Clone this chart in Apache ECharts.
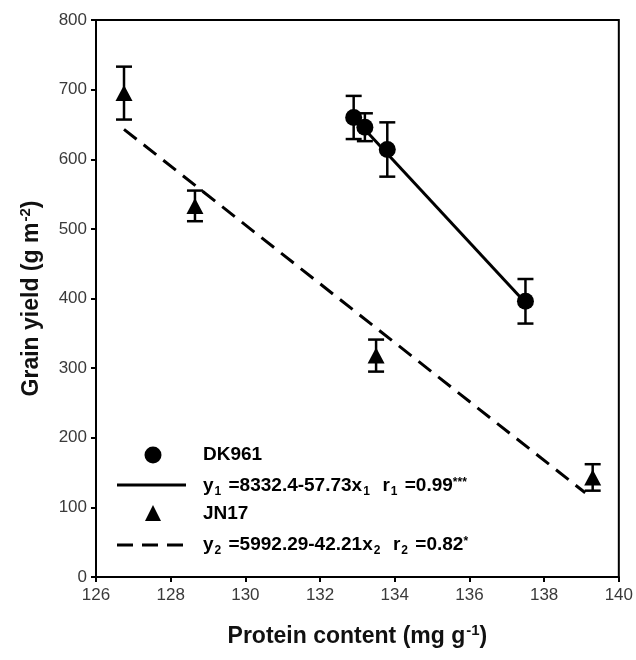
<!DOCTYPE html>
<html>
<head>
<meta charset="utf-8">
<script src="https://cdn.jsdelivr.net/npm/echarts@6/dist/echarts.min.js"></script>
<style>
  html, body { margin: 0; padding: 0; background: #fff; }
  #chart { width: 636px; height: 660px; }
</style>
</head>
<body>
<div id="chart"></div>
<script>
const font = "'Liberation Sans', Arial, sans-serif"

// DK961 (circles)
const dkX = [132.9, 133.2, 133.8, 137.5]
const dkY = [660, 646, 614, 396]
const dkErr = [31, 20, 39, 32]
// fitted line, end points
const dkFitX = [132.9, 137.5]
const dkFitY = [660, 394]

// JN17 (triangles)
const jnX = [126.75, 128.65, 133.5, 139.3]
const jnY = [695, 533, 318, 143]
const jnErr = [38, 22, 23, 19]
const jnFitX = [126.75, 139.1]
const jnFitY = [643, 121]

// axes
const xMin = 126, xMax = 140, xStep = 2
const yMin = 0, yMax = 800, yStep = 100

const chart = echarts.init(document.getElementById('chart'))

function pairs(xs, ys) {
  return xs.map((x, i) => [x, ys[i]])
}

// 误差线
function errorBars(xs, ys, errs) {
  return {
    type: 'custom',
    silent: true,
    z: 1,
    data: xs.map((x, i) => [x, ys[i] - errs[i], ys[i] + errs[i]]),
    renderItem(params, api) {
      const lo = api.coord([api.value(0), api.value(1)])
      const hi = api.coord([api.value(0), api.value(2)])
      const w = 8
      const style = { stroke: '#000', lineWidth: 2.5 }
      return {
        type: 'group',
        children: [
          { type: 'line', shape: { x1: lo[0], y1: lo[1], x2: hi[0], y2: hi[1] }, style },
          { type: 'line', shape: { x1: lo[0] - w, y1: lo[1], x2: lo[0] + w, y2: lo[1] }, style },
          { type: 'line', shape: { x1: hi[0] - w, y1: hi[1], x2: hi[0] + w, y2: hi[1] }, style }
        ]
      }
    }
  }
}

const txt = { fontSize: 19, fontWeight: 'bold', fontFamily: font, fill: '#000' }
const rich = {
  b: { fontSize: 19, fontWeight: 'bold', fontFamily: font, color: '#000' },
  s: { fontSize: 12, fontWeight: 'bold', fontFamily: font, color: '#000', padding: [11, 2, 0, 1] },
  a: { fontSize: 12, fontWeight: 'bold', fontFamily: font, color: '#000', padding: [0, 0, 6, 0] }
}
const titleRich = {
  t: { fontSize: 23, fontWeight: 'bold', fontFamily: font, color: '#111' },
  sup: { fontSize: 15, fontWeight: 'bold', fontFamily: font, color: '#111', padding: [0, 0, 13, 1] }
}

const option = {
  animation: false,
  grid: { left: 96, right: 15, top: 20, bottom: 83, show: true, borderColor: '#000', borderWidth: 2 },
  xAxis: {
    type: 'value',
    min: xMin, max: xMax, interval: xStep,
    name: '{t|Protein content (mg g}{sup|-1}{t|)}',
    nameLocation: 'middle',
    nameGap: 46,
    nameTextStyle: { rich: titleRich },
    axisLine: { lineStyle: { color: '#000', width: 2 } },
    axisTick: { inside: false, length: 5, lineStyle: { color: '#000', width: 2 } },
    axisLabel: { fontSize: 17, color: '#3a3a3a', fontFamily: font, margin: 10 },
    splitLine: { show: false }
  },
  yAxis: {
    type: 'value',
    min: yMin, max: yMax, interval: yStep,
    name: '{t|Grain yield (g m}{sup|-2}{t|)}',
    nameLocation: 'middle',
    nameRotate: 90,
    nameGap: 50,
    nameTextStyle: { rich: titleRich },
    axisLine: { lineStyle: { color: '#000', width: 2 } },
    axisTick: { inside: false, length: 5, lineStyle: { color: '#000', width: 2 } },
    axisLabel: { fontSize: 17, color: '#3a3a3a', fontFamily: font, margin: 9 },
    splitLine: { show: false }
  },
  series: [
    {
      name: 'DK961 fit',
      type: 'line',
      data: pairs(dkFitX, dkFitY),
      showSymbol: false,
      silent: true,
      lineStyle: { color: '#000', width: 3 },
      z: 2
    },
    {
      name: 'JN17 fit',
      type: 'line',
      data: pairs(jnFitX, jnFitY),
      showSymbol: false,
      silent: true,
      lineStyle: { color: '#000', width: 3, type: [16, 9] },
      z: 2
    },
    errorBars(dkX, dkY, dkErr),
    errorBars(jnX, jnY, jnErr),
    {
      name: 'DK961',
      type: 'scatter',
      data: pairs(dkX, dkY),
      symbol: 'circle',
      symbolSize: 17,
      itemStyle: { color: '#000', opacity: 1 },
      z: 3
    },
    {
      name: 'JN17',
      type: 'scatter',
      data: pairs(jnX, jnY),
      symbol: 'triangle',
      symbolSize: [17, 16],
      itemStyle: { color: '#000', opacity: 1 },
      z: 3
    }
  ],
  // 图例
  graphic: [
    { type: 'circle', shape: { cx: 153, cy: 455, r: 8.5 }, style: { fill: '#000' } },
    { type: 'text', x: 203, y: 455, style: Object.assign({ text: 'DK961', verticalAlign: 'middle' }, txt) },
    { type: 'line', shape: { x1: 117, y1: 485, x2: 186, y2: 485 }, style: { stroke: '#000', lineWidth: 3 } },
    {
      type: 'text', x: 203, y: 486,
      style: {
        text: '{b|y}{s|1}{b| =8332.4-57.73x}{s|1}{b|  r}{s|1}{b| =0.99}{a|***}',
        rich, verticalAlign: 'middle'
      }
    },
    { type: 'polygon', shape: { points: [[153, 505], [145, 521], [161, 521]] }, style: { fill: '#000' } },
    { type: 'text', x: 203, y: 514, style: Object.assign({ text: 'JN17', verticalAlign: 'middle' }, txt) },
    {
      type: 'line', shape: { x1: 117, y1: 545, x2: 186, y2: 545 },
      style: { stroke: '#000', lineWidth: 3, lineDash: [16, 9] }
    },
    {
      type: 'text', x: 203, y: 545,
      style: {
        text: '{b|y}{s|2}{b| =5992.29-42.21x}{s|2}{b|  r}{s|2}{b| =0.82}{a|*}',
        rich, verticalAlign: 'middle'
      }
    }
  ]
}

chart.setOption(option)
</script>
</body>
</html>
